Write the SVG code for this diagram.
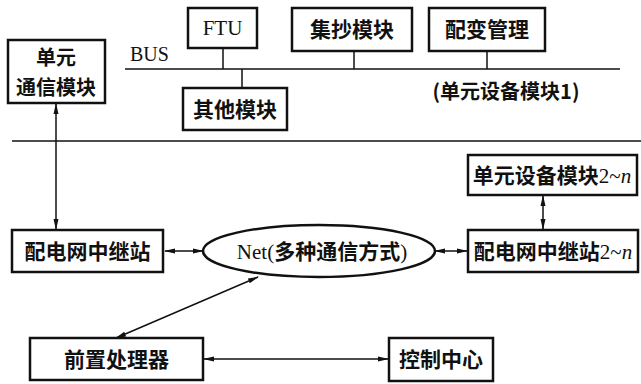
<svg xmlns="http://www.w3.org/2000/svg" width="641" height="384" viewBox="0 0 641 384">
<style>
.box{fill:#fff;stroke:#111;stroke-width:2.5}
.ln{fill:none;stroke:#111;stroke-width:1.5}
.cn{font-family:"Noto Sans CJK SC","Liberation Serif",serif;font-size:21px;font-weight:bold;fill:#111;text-anchor:middle}
.lt{font-family:"Liberation Serif","Noto Sans CJK SC",serif;font-size:21px;fill:#111}
</style>
<defs>
<marker id="ah" markerWidth="11" markerHeight="7" refX="10" refY="3.5" orient="auto-start-reverse" markerUnits="userSpaceOnUse">
<path d="M0,1 L11,3.5 L0,6 Z" fill="#111"/>
</marker>
</defs>
<g id="connectors">
<line class="ln" x1="125" y1="69" x2="620" y2="69"/>
<line class="ln" x1="223" y1="48" x2="223" y2="69"/>
<line class="ln" x1="242" y1="69" x2="242" y2="88"/>
<line class="ln" x1="354" y1="51" x2="354" y2="69"/>
<line class="ln" x1="487" y1="51" x2="487" y2="69"/>
<line class="ln" x1="12" y1="141" x2="641" y2="141"/>
<line class="ln" x1="56" y1="104" x2="56" y2="229" marker-start="url(#ah)" marker-end="url(#ah)"/>
<line class="ln" x1="165" y1="251" x2="203" y2="251" marker-start="url(#ah)" marker-end="url(#ah)"/>
<line class="ln" x1="435" y1="251" x2="467" y2="251" marker-start="url(#ah)" marker-end="url(#ah)"/>
<line class="ln" x1="543" y1="196" x2="543" y2="229" marker-start="url(#ah)" marker-end="url(#ah)"/>
<line class="ln" x1="258" y1="277" x2="116" y2="338" marker-start="url(#ah)" marker-end="url(#ah)"/>
<line class="ln" x1="204" y1="359" x2="388" y2="359" marker-start="url(#ah)" marker-end="url(#ah)"/>
</g>
<text class="lt" x="130" y="61" style="font-size:20px">BUS</text>
<text class="cn" x="506" y="99" style="font-size:20px">(单元设备模块1)</text>
<g id="unit-comm">
<rect class="box" x="8" y="40" width="97" height="63"/>
<text class="cn" x="56" y="65" style="font-size:20px">单元</text>
<text class="cn" x="56" y="95" style="font-size:20px">通信模块</text>
</g>
<g id="ftu">
<rect class="box" x="188" y="8" width="69" height="40"/>
<text class="lt" x="222.5" y="35" text-anchor="middle">FTU</text>
</g>
<g id="jichao">
<rect class="box" x="292" y="8" width="120" height="43"/>
<text class="cn" x="352" y="37">集抄模块</text>
</g>
<g id="peibian">
<rect class="box" x="429" y="8" width="116" height="43"/>
<text class="cn" x="487" y="37">配变管理</text>
</g>
<g id="other">
<rect class="box" x="183" y="88" width="104" height="42"/>
<text class="cn" x="235" y="117">其他模块</text>
</g>
<g id="relay1">
<rect class="box" x="12" y="230" width="151" height="42"/>
<text class="cn" x="87.5" y="259">配电网中继站</text>
</g>
<g id="net">
<ellipse cx="319" cy="251" rx="116" ry="26" fill="#fff" stroke="#111" stroke-width="2.5"/>
<text class="lt" x="322" y="259" text-anchor="middle">Net(<tspan style="font-family:'Noto Sans CJK SC',serif;font-weight:bold">多种通信方式</tspan>)</text>
</g>
<g id="unitn">
<rect class="box" x="468" y="155" width="169" height="40"/>
<text class="cn" x="552" y="183">单元设备模块<tspan class="lt" style="font-weight:normal">2~<tspan font-style="italic">n</tspan></tspan></text>
</g>
<g id="relayn">
<rect class="box" x="468" y="230" width="170" height="42"/>
<text class="cn" x="553" y="259">配电网中继站<tspan class="lt" style="font-weight:normal">2~<tspan font-style="italic">n</tspan></tspan></text>
</g>
<g id="front">
<rect class="box" x="30" y="338" width="173" height="42"/>
<text class="cn" x="116.5" y="367">前置处理器</text>
</g>
<g id="control">
<rect class="box" x="389" y="338" width="104" height="43"/>
<text class="cn" x="441" y="367">控制中心</text>
</g>
</svg>
